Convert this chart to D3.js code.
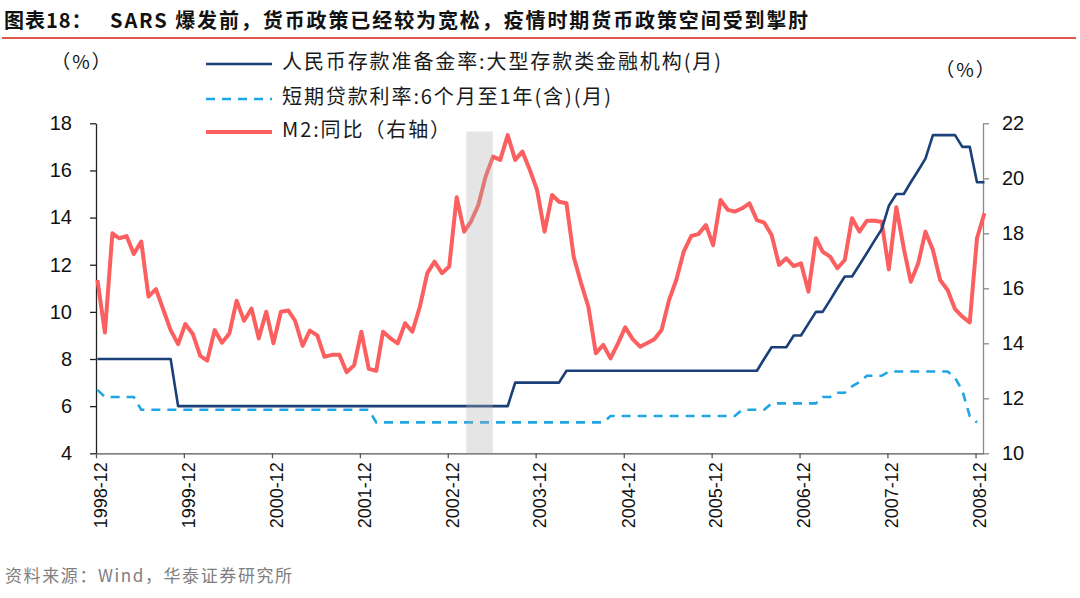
<!DOCTYPE html>
<html><head><meta charset="utf-8">
<script src="https://cdn.jsdelivr.net/npm/d3@7/dist/d3.min.js"></script>
<style>
html,body{margin:0;padding:0;background:#fff;}
svg{display:block;}
text{font-family:"Liberation Sans","Noto Sans CJK SC",Arial,sans-serif;}
.cjk{font-family:"Noto Sans CJK SC","Liberation Sans",sans-serif;}
</style>
</head><body>
<svg id="chart" width="1080" height="598"></svg>
<script>
// ---------- data (monthly, starting 1998-12) ----------
const startYear = 1998, startMonth = 11; // December 1998 (0-based month)
const xTickLabels = ["1998-12","1999-12","2000-12","2001-12","2002-12","2003-12","2004-12","2005-12","2006-12","2007-12","2008-12"];
const leftTicks = [4,6,8,10,12,14,16,18];
const rightTicks = [10,12,14,16,18,20,22];

// 人民币存款准备金率:大型存款类金融机构(月)  (left axis)
const reserveRatio = [
  8,8,8,8,8,8,8,8,8,8,8,6,
  6,6,6,6,6,6,6,6,6,6,6,6,
  6,6,6,6,6,6,6,6,6,6,6,6,
  6,6,6,6,6,6,6,6,6,6,6,6,
  6,6,6,6,6,6,6,6,6,7,7,7,
  7,7,7,7,7.5,7.5,7.5,7.5,7.5,7.5,7.5,7.5,
  7.5,7.5,7.5,7.5,7.5,7.5,7.5,7.5,7.5,7.5,7.5,7.5,
  7.5,7.5,7.5,7.5,7.5,7.5,7.5,8,8.5,8.5,8.5,9,
  9,9.5,10,10,10.5,11,11.5,11.5,12,12.5,13,13.5,
  14.5,15,15,15.5,16,16.5,17.5,17.5,17.5,17.5,17,17,
  15.5,15.5
];
// 短期贷款利率:6个月至1年(含)(月)  (left axis)
const loanRate = [
  6.69,6.39,6.39,6.39,6.39,6.39,5.85,5.85,5.85,5.85,5.85,5.85,
  5.85,5.85,5.85,5.85,5.85,5.85,5.85,5.85,5.85,5.85,5.85,5.85,
  5.85,5.85,5.85,5.85,5.85,5.85,5.85,5.85,5.85,5.85,5.85,5.85,
  5.85,5.85,5.31,5.31,5.31,5.31,5.31,5.31,5.31,5.31,5.31,5.31,
  5.31,5.31,5.31,5.31,5.31,5.31,5.31,5.31,5.31,5.31,5.31,5.31,
  5.31,5.31,5.31,5.31,5.31,5.31,5.31,5.31,5.31,5.31,5.58,5.58,
  5.58,5.58,5.58,5.58,5.58,5.58,5.58,5.58,5.58,5.58,5.58,5.58,
  5.58,5.58,5.58,5.58,5.85,5.85,5.85,5.85,6.12,6.12,6.12,6.12,
  6.12,6.12,6.12,6.39,6.39,6.57,6.57,6.84,7.02,7.29,7.29,7.29,
  7.47,7.47,7.47,7.47,7.47,7.47,7.47,7.47,7.47,7.20,6.66,5.58,
  5.31
];
// M2:同比 (right axis)
const m2Yoy = [
  16.30,14.39,18.00,17.82,17.90,17.25,17.70,15.70,15.97,15.21,14.48,13.97,
  14.70,14.34,13.54,13.37,14.48,14.02,14.36,15.55,14.82,15.26,14.18,15.15,
  14.00,15.15,15.19,14.82,13.91,14.46,14.29,13.51,13.58,13.58,12.95,13.20,
  14.42,13.07,13.00,14.42,14.18,14.00,14.73,14.42,15.33,16.55,16.97,16.55,
  16.79,19.31,18.06,18.42,19.03,20.06,20.79,20.67,21.57,20.67,20.97,20.30,
  19.57,18.06,19.39,19.15,19.09,17.15,16.18,15.33,13.64,13.94,13.45,14.00,
  14.58,14.15,13.88,14.00,14.15,14.48,15.57,16.30,17.33,17.90,17.97,18.30,
  17.57,19.21,18.85,18.79,18.91,19.09,18.48,18.39,17.94,16.85,17.09,16.81,
  16.91,15.88,17.82,17.33,17.15,16.73,17.03,18.55,18.06,18.46,18.46,18.42,
  16.69,18.95,17.45,16.24,16.91,18.06,17.39,16.30,15.94,15.24,14.97,14.76,
  17.82,18.73
];
// SARS period shading (start, end) and its height on the left axis
const sarsBand = [new Date(2003,1,16), new Date(2003,5,6)];
const sarsBandTop = 17.65;

const titleLead = "图表18：";
const titleText = "SARS 爆发前，货币政策已经较为宽松，疫情时期货币政策空间受到掣肘";
const legendLabels = ["人民币存款准备金率:大型存款类金融机构(月)","短期贷款利率:6个月至1年(含)(月)","M2:同比（右轴）"];
const colors = {reserve:"#1b3f78", loan:"#1fa5e3", m2:"#fb5f5f"};

// ---------- layout ----------
const svg = d3.select("#chart");
const plot = {left:96, right:983, top:123.3, bottom:453.3};
const monthDate = (i, day) => new Date(startYear, startMonth + i, day);

const x = d3.scaleTime()
  .domain([monthDate(0,1), monthDate(121,1)])
  .range([plot.left, plot.right]);
const yL = d3.scaleLinear().domain([4,18]).range([plot.bottom, plot.top]);
const yR = d3.scaleLinear().domain([10,22]).range([plot.bottom, plot.top]);
const ptDay = 7;

// title
svg.append("text").attr("class","cjk").attr("x",4).attr("y",28)
  .attr("font-size",20).attr("font-weight",700).attr("letter-spacing",1).attr("fill","#111")
  .text(titleLead);
svg.append("text").attr("class","cjk").attr("x",110).attr("y",28)
  .attr("font-size",20).attr("font-weight",700).attr("letter-spacing",1.9).attr("fill","#111")
  .text(titleText);
svg.append("line").attr("x1",2).attr("x2",1076).attr("y1",38).attr("y2",38)
  .attr("stroke","#e0574c").attr("stroke-width",2);

// axes
const axL = svg.append("g").attr("transform",`translate(${plot.left},0)`)
  .call(d3.axisLeft(yL).tickValues(leftTicks).tickSize(6).tickPadding(18).tickSizeOuter(0));
axL.select(".domain").attr("stroke","#222").attr("stroke-width",1.3);
axL.selectAll(".tick line").attr("stroke","#222").attr("stroke-width",1.3);
axL.selectAll("text").attr("font-size",20).attr("fill","#111").attr("font-family","Liberation Sans, Arial");

const axR = svg.append("g").attr("transform",`translate(${plot.right},0)`)
  .call(d3.axisRight(yR).tickValues(rightTicks).tickSize(6).tickPadding(13).tickSizeOuter(0));
axR.select(".domain").attr("stroke","#8a8a8a").attr("stroke-width",1.3);
axR.selectAll(".tick line").attr("stroke","#8a8a8a").attr("stroke-width",1.3);
axR.selectAll("text").attr("font-size",20).attr("fill","#111").attr("font-family","Liberation Sans, Arial");

const tickDates = xTickLabels.map(s => { const [yy,mm] = s.split("-").map(Number); return new Date(yy, mm-1, 1); });
const axB = svg.append("g").attr("transform",`translate(0,${plot.bottom})`)
  .call(d3.axisBottom(x).tickValues(tickDates).tickSize(5).tickSizeOuter(0).tickFormat((d,i)=>xTickLabels[i]));
axB.select(".domain").attr("stroke","#555").attr("stroke-width",1.3);
axB.selectAll(".tick line").attr("stroke","#555").attr("stroke-width",1.3);
axB.selectAll("text")
  .attr("font-size",18).attr("fill","#111").attr("font-family","Liberation Sans, Arial")
  .attr("text-anchor","end").attr("dy","0.35em")
  .attr("transform","translate(4,0) rotate(-90) translate(-9,0)")
  .attr("x",0).attr("y",0);

// unit labels
svg.append("text").attr("class","cjk").attr("x",82).attr("y",64).attr("text-anchor","middle")
  .attr("dominant-baseline","middle").attr("font-size",19).attr("letter-spacing",2).attr("fill","#111").text("（%）");
svg.append("text").attr("class","cjk").attr("x",966).attr("y",72).attr("text-anchor","middle")
  .attr("dominant-baseline","middle").attr("font-size",19).attr("letter-spacing",2).attr("fill","#111").text("（%）");

// lines
const lineL = d3.line().x((d,i)=>x(monthDate(i,ptDay))).y(d=>yL(d));
const lineR = d3.line().x((d,i)=>x(monthDate(i,ptDay))).y(d=>yR(d));

svg.append("path").datum(m2Yoy).attr("d",lineR).attr("fill","none")
  .attr("stroke",colors.m2).attr("stroke-width",4).attr("stroke-linejoin","round");
svg.append("path").datum(loanRate).attr("d",lineL).attr("fill","none")
  .attr("stroke",colors.loan).attr("stroke-width",2.6).attr("stroke-dasharray","9,7");
svg.append("path").datum(reserveRatio).attr("d",lineL).attr("fill","none")
  .attr("stroke",colors.reserve).attr("stroke-width",2.6).attr("stroke-linejoin","round");

// SARS band (semi-transparent, on top)
svg.append("rect").attr("x",x(sarsBand[0])).attr("width",x(sarsBand[1])-x(sarsBand[0]))
  .attr("y",yL(sarsBandTop)).attr("height",yL(4)-yL(sarsBandTop))
  .attr("fill","#b0b0b0").attr("opacity",0.33);

// legend
const legY = [64, 99, 132];
const legKeys = ["reserve","loan","m2"];
legKeys.forEach((k,i)=>{
  svg.append("line").attr("x1",206).attr("x2",272).attr("y1",legY[i]).attr("y2",legY[i])
    .attr("stroke",colors[k]).attr("stroke-width",k==="m2"?4:2.6)
    .attr("stroke-dasharray",k==="loan"?"9,7":null);
  svg.append("text").attr("class","cjk").attr("x",282).attr("y",legY[i]).attr("dominant-baseline","middle")
    .attr("font-size",20).attr("letter-spacing",1.9).attr("fill","#1a1a1a").text(legendLabels[i]);
});

// source
svg.append("text").attr("class","cjk").attr("x",5).attr("y",582)
  .attr("font-size",17).attr("letter-spacing",1.6).attr("fill","#808080").text("资料来源：Wind，华泰证券研究所");
</script>
</body></html>
